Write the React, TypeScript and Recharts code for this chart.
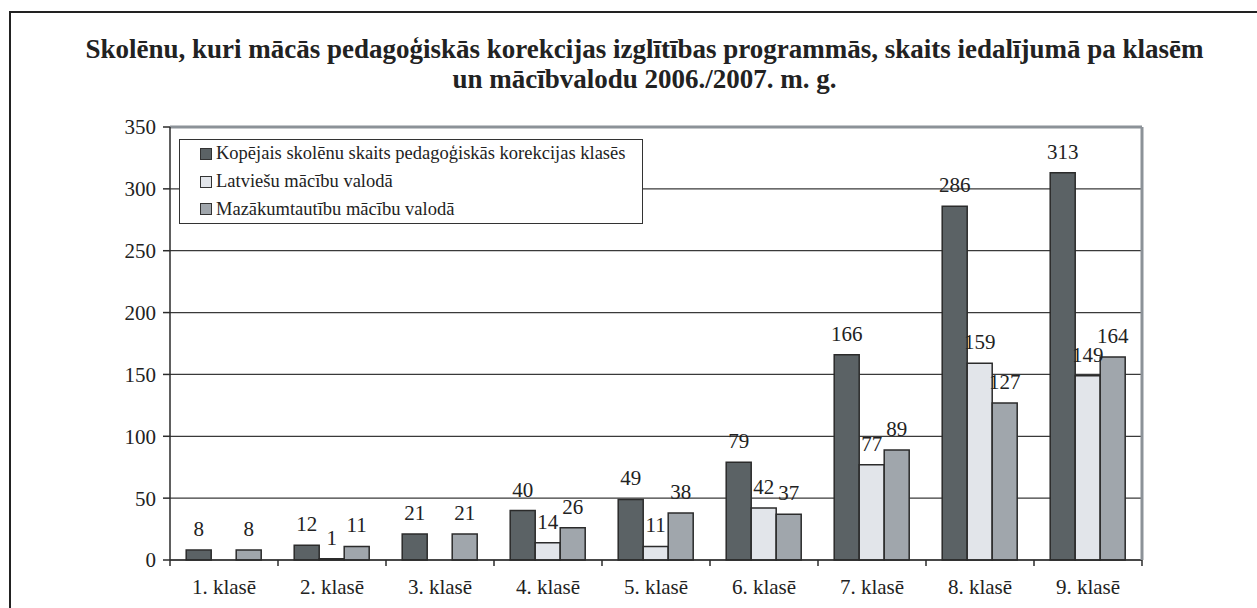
import React from 'react';
import { BarChart, Bar, XAxis, YAxis, CartesianGrid, LabelList, ReferenceLine, Legend } from 'recharts';

const categories = ['1. klasē', '2. klasē', '3. klasē', '4. klasē', '5. klasē', '6. klasē', '7. klasē', '8. klasē', '9. klasē'];
const totalValues = [8, 12, 21, 40, 49, 79, 166, 286, 313];
const latvianValues = [0, 1, 0, 14, 11, 42, 77, 159, 149];
const minorityValues = [8, 11, 21, 26, 38, 37, 89, 127, 164];
const yTicks = [0, 50, 100, 150, 200, 250, 300, 350];

const seriesNames = [
  'Kopējais skolēnu skaits pedagoģiskās korekcijas klasēs',
  'Latviešu mācību valodā',
  'Mazākumtautību mācību valodā',
];
const seriesColors = ['#5b6265', '#e2e5ea', '#a0a6ac'];

const titleLines = [
  'Skolēnu, kuri mācās pedagoģiskās korekcijas izglītības programmās, skaits iedalījumā pa klasēm',
  'un mācībvalodu 2006./2007. m. g.',
];

const data = categories.map((c, i) => ({
  name: c,
  total: totalValues[i],
  lv: latvianValues[i],
  min: minorityValues[i],
}));

const FONT = '"Liberation Serif", "Times New Roman", serif';
const STROKE = '#2b2b2b';

const XTick = (props: any) => {
  const { x, y, payload, index } = props;
  const off = payload && payload.offset ? payload.offset : 0;
  return (
    <g>
      <line x1={x - off} x2={x - off} y1={y - 8} y2={y - 2} stroke={STROKE} strokeWidth={1.5} />
      {index === categories.length - 1 && (
        <line x1={x + off} x2={x + off} y1={y - 8} y2={y - 2} stroke={STROKE} strokeWidth={1.5} />
      )}
      <text x={x} y={y} dy={26} textAnchor="middle" style={{ fontFamily: FONT, fontSize: 21 }} fill="#222">
        {payload.value}
      </text>
    </g>
  );
};

const LegendBox = () => (
  <div
    style={{
      border: '1.5px solid #333',
      background: '#fff',
      width: 464,
      padding: '0 0 0 20px',
      fontFamily: FONT,
      fontSize: 18.5,
      color: '#222',
      boxSizing: 'border-box',
    }}
  >
    {seriesNames.map((n, i) => (
      <div key={n} style={{ display: 'flex', alignItems: 'center', height: 27.7 }}>
        <span
          style={{
            display: 'inline-block',
            width: 10,
            height: 10,
            background: seriesColors[i],
            border: '1px solid #333',
            marginRight: 4,
          }}
        />
        <span>{n}</span>
      </div>
    ))}
  </div>
);

const hideZero = (v: any) => (v === 0 ? '' : v);
const labelStyle = { fontFamily: FONT, fontSize: 21, fill: '#222' };

export default function App() {
  return (
    <div style={{ position: 'absolute', left: 0, top: 0, width: 1257, height: 608, background: '#fff', overflow: 'hidden', fontFamily: FONT }}>
      <div
        style={{
          position: 'absolute',
          left: 9,
          top: 11,
          width: 1300,
          height: 700,
          border: '2px solid #222',
          boxSizing: 'border-box',
        }}
      />
      <div
        style={{
          position: 'absolute',
          left: 0,
          top: 34,
          width: 1289,
          textAlign: 'center',
          fontFamily: FONT,
          fontWeight: 'bold',
          fontSize: 27,
          lineHeight: '30px',
          color: '#222',
        }}
      >
        {titleLines.map((t) => (
          <div key={t}>{t}</div>
        ))}
      </div>
      <div style={{ position: 'absolute', left: 0, top: 0 }}>
        <BarChart
          width={1257}
          height={608}
          data={data}
          margin={{ top: 127, right: 0, bottom: 18, left: 110 }}
          barCategoryGap="15%"
          barGap={0}
          style={{ fontFamily: FONT }}
        >
          <CartesianGrid vertical={false} stroke="#3a3a3a" strokeWidth={1.2} />
          <XAxis
            dataKey="name"
            height={30}
            axisLine={{ stroke: STROKE, strokeWidth: 1.5 }}
            tickLine={false}
            tickSize={6}
            tickMargin={2}
            interval={0}
            tick={<XTick />}
          />
          <YAxis
            width={60}
            domain={[0, 350]}
            ticks={yTicks}
            axisLine={{ stroke: STROKE, strokeWidth: 1.5 }}
            tickLine={{ stroke: STROKE, strokeWidth: 1.5 }}
            tickSize={7}
            tickMargin={7}
            tick={{ fontSize: 21, fill: '#222', style: { fontFamily: FONT } }}
          />
          <YAxis
            yAxisId="r"
            orientation="right"
            width={115}
            domain={[0, 350]}
            ticks={yTicks}
            axisLine={{ stroke: '#8c9298', strokeWidth: 3 }}
            tickLine={false}
            tick={false}
          />
          <ReferenceLine y={350} stroke="#8c9298" strokeWidth={3} />
          <Legend
            layout="vertical"
            align="center"
            verticalAlign="middle"
            content={<LegendBox />}
            wrapperStyle={{ position: 'absolute', left: 179, top: 139, width: 'auto' }}
          />
          <Bar dataKey="total" name={seriesNames[0]} fill={seriesColors[0]} stroke={STROKE} strokeWidth={1.5} isAnimationActive={false}>
            <LabelList dataKey="total" position="top" offset={14} formatter={hideZero} style={labelStyle} />
          </Bar>
          <Bar dataKey="lv" name={seriesNames[1]} fill={seriesColors[1]} stroke={STROKE} strokeWidth={1.5} isAnimationActive={false}>
            <LabelList dataKey="lv" position="top" offset={14} formatter={hideZero} style={labelStyle} />
          </Bar>
          <Bar dataKey="min" name={seriesNames[2]} fill={seriesColors[2]} stroke={STROKE} strokeWidth={1.5} isAnimationActive={false}>
            <LabelList dataKey="min" position="top" offset={14} formatter={hideZero} style={labelStyle} />
          </Bar>
        </BarChart>
      </div>
    </div>
  );
}
